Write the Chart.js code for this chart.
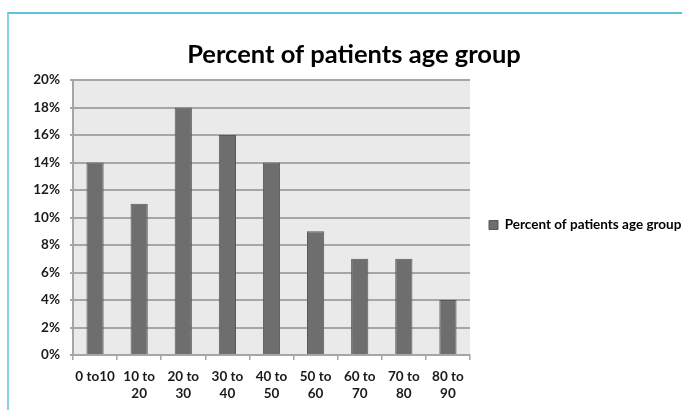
<!DOCTYPE html>
<html>
<head>
<meta charset="utf-8">
<script src="https://cdn.jsdelivr.net/npm/chart.js@4/dist/chart.umd.min.js"></script>
<style>
  html, body { margin: 0; padding: 0; background: #ffffff; }
  #wrap { position: relative; width: 682px; height: 410px; overflow: hidden; }
  #frame { position: absolute; left: 7px; top: 12px; right: 0; bottom: 0;
           border-top: 2px solid #5cc3de; border-left: 2px solid #86d3e8; }
  canvas { position: absolute; left: 0; top: 0; }
</style>
</head>
<body>
<div id="wrap">
  <div id="frame"></div>
  <canvas id="c" width="682" height="410"></canvas>
</div>
<script>
const categories = [["0 to10"], ["10 to", "20"], ["20 to", "30"], ["30 to", "40"], ["40 to", "50"], ["50 to", "60"], ["60 to", "70"], ["70 to", "80"], ["80 to", "90"]];
const percentValues = [14, 11, 18, 16, 14, 9, 7, 7, 4];
const seriesName = "Percent of patients age group";
const yTicks = [0, 2, 4, 6, 8, 10, 12, 14, 16, 18, 20];

const plotBg = {
  id: 'plotBg',
  beforeDraw(chart) {
    const {ctx, chartArea: a} = chart;
    ctx.save();
    ctx.fillStyle = '#eaeaea';
    ctx.fillRect(a.left, a.top, a.right - a.left, a.bottom - a.top);
    ctx.restore();
  }
};

new Chart(document.getElementById('c'), {
  type: 'bar',
  data: {
    labels: categories,
    datasets: [{
      label: seriesName,
      data: percentValues,
      backgroundColor: '#6e6e6e',
      borderColor: '#575757',
      borderWidth: 1,
      barPercentage: 0.39,
      categoryPercentage: 1.0
    }]
  },
  options: {
    responsive: false,
    animation: false,
    layout: { padding: { top: 37, left: 26, right: 0, bottom: -3 } },
    plugins: {
      title: {
        display: true,
        text: 'Percent of patients age group',
        color: '#000000',
        font: { family: 'Lato', size: 25.5, weight: 'bold', lineHeight: 1.2 },
        padding: { top: 2, bottom: 10.4 }
      },
      legend: {
        display: true,
        position: 'right',
        align: 'center',
        maxWidth: 212,
        labels: {
          boxWidth: 9,
          boxHeight: 9,
          padding: 19,
          color: '#000000',
          font: { family: 'Lato', size: 13.5, weight: 'bold' }
        }
      },
      tooltip: { enabled: false }
    },
    scales: {
      x: {
        offset: true,
        afterFit(s) { s.height = 58; },
        grid: {
          display: true,
          offset: true,
          drawOnChartArea: false,
          drawTicks: true,
          tickLength: 5,
          color: '#a6a6a6',
          lineWidth: 1.5
        },
        border: { display: true, color: '#a6a6a6', width: 2 },
        ticks: {
          color: '#1a1a1a',
          padding: 8,
          maxRotation: 0,
          autoSkip: false,
          font: { family: 'Lato', size: 13.5, weight: 'bold', lineHeight: 1.25 }
        }
      },
      y: {
        min: 0,
        max: 20,
        afterFit(s) { s.width = 47; },
        afterBuildTicks(s) { s.ticks = yTicks.map(v => ({ value: v })); },
        grid: {
          color: '#a6a6a6',
          lineWidth: 2,
          tickLength: 3
        },
        border: { display: true, color: '#a6a6a6', width: 2 },
        ticks: {
          color: '#1a1a1a',
          padding: 10,
          font: { family: 'Lato', size: 13.5, weight: 'bold' },
          callback: v => v + '%'
        }
      }
    }
  },
  plugins: [plotBg]
});
</script>
</body>
</html>
